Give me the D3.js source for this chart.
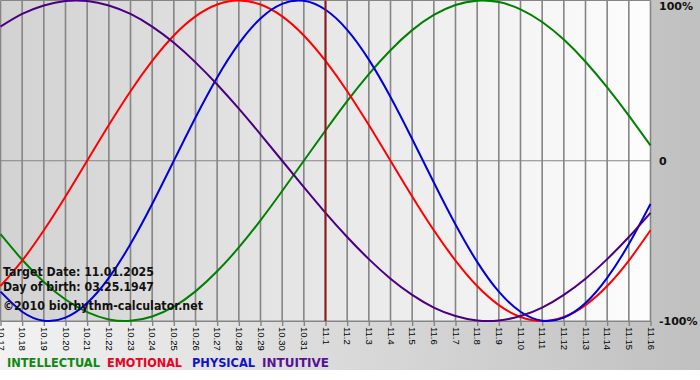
<!DOCTYPE html>
<html><head><meta charset="utf-8">
<script src="https://cdn.jsdelivr.net/npm/d3@7"></script>
<style>html,body{margin:0;padding:0;background:#fff;}svg{display:block;}</style>
</head><body>
<svg id="c" width="700" height="380"></svg>
<script>
const dates = ["10.17","10.18","10.19","10.20","10.21","10.22","10.23","10.24","10.25","10.26","10.27","10.28","10.29","10.30","10.31","11.1","11.2","11.3","11.4","11.5","11.6","11.7","11.8","11.9","11.10","11.11","11.12","11.13","11.14","11.15","11.16"];
const intellectual = [-0.458,-0.618,-0.756,-0.866,-0.945,-0.990,-0.999,-0.972,-0.910,-0.815,-0.690,-0.541,-0.372,-0.189,0,0.189,0.372,0.541,0.690,0.815,0.910,0.972,0.999,0.990,0.945,0.866,0.756,0.618,0.458,0.282,0.095];
const emotional = [-0.782,-0.623,-0.434,-0.223,0,0.223,0.434,0.623,0.782,0.901,0.975,1,0.975,0.901,0.782,0.623,0.434,0.223,0,-0.223,-0.434,-0.623,-0.782,-0.901,-0.975,-1,-0.975,-0.901,-0.782,-0.623,-0.434];
const physical = [-0.817,-0.942,-0.998,-0.979,-0.888,-0.731,-0.520,-0.270,0,0.270,0.520,0.731,0.888,0.979,0.998,0.942,0.817,0.631,0.398,0.136,-0.136,-0.398,-0.631,-0.817,-0.942,-0.998,-0.979,-0.888,-0.731,-0.520,-0.270];
const intuitive = [0.837,0.916,0.969,0.997,0.997,0.969,0.916,0.837,0.736,0.614,0.476,0.325,0.165,0,-0.165,-0.325,-0.476,-0.614,-0.736,-0.837,-0.916,-0.969,-0.997,-0.997,-0.969,-0.916,-0.837,-0.736,-0.614,-0.476,-0.325];
const seriesNames = ["INTELLECTUAL","EMOTIONAL","PHYSICAL","INTUITIVE"];
const seriesColors = ["#008000","#ff0000","#0000dd","#4b0082"];
const legendColors = ["#118811","#ee0022","#1111cc","#551199"];
const yTickLabels = ["100%","0","-100%"];
const yTickValues = [1,0,-1];
const targetIndex = 15;
const infoLines = ["Target Date: 11.01.2025","Day of birth: 03.25.1947","\u00a92010 biorhythm-calculator.net"];

const svg = d3.select("#c");
const defs = svg.append("defs");
const og = defs.append("linearGradient").attr("id","outer").attr("x1","0").attr("x2","1").attr("y1","0").attr("y2","0");
og.append("stop").attr("offset","0").attr("stop-color","#f2f2f2");
og.append("stop").attr("offset","1").attr("stop-color","#c0c0c0");
const pg = defs.append("linearGradient").attr("id","plot").attr("x1","0").attr("x2","1").attr("y1","0").attr("y2","0");
pg.append("stop").attr("offset","0").attr("stop-color","#d2d2d2");
pg.append("stop").attr("offset","1").attr("stop-color","#fdfdfd");

const W = 700, H = 370;
const x = d3.scaleLinear().domain([0, dates.length-1]).range([0.5, 650.5]);
const y = d3.scaleLinear().domain([-1, 1]).range([321, 0.5]);

svg.append("rect").attr("x",0).attr("y",0).attr("width",W).attr("height",H).attr("fill","url(#outer)");
svg.append("rect").attr("x",x(0)-0.5).attr("y",y(1)-0.5).attr("width",x(dates.length-1)-x(0)+0.5).attr("height",y(-1)-y(1)+0.5).attr("fill","url(#plot)");

// vertical grid
svg.append("g").selectAll("line").data(d3.range(dates.length)).join("line")
  .attr("x1",d=>x(d)).attr("x2",d=>x(d)).attr("y1",y(1)).attr("y2",y(-1))
  .attr("stroke","#858585").attr("stroke-width",1.6);
// horizontal grid lines
svg.append("g").selectAll("line").data(yTickValues).join("line")
  .attr("x1",x(0)).attr("x2",x(dates.length-1)).attr("y1",d=>y(d)).attr("y2",d=>y(d))
  .attr("stroke","#858585").attr("stroke-width",1.2);

// x axis
const xAxis = d3.axisBottom(x).tickValues(d3.range(dates.length)).tickFormat(i=>dates[i]).tickSize(5).tickSizeOuter(0);
const gx = svg.append("g").attr("transform",`translate(0,${y(-1)})`).call(xAxis);
gx.select(".domain").attr("stroke","#858585").attr("stroke-width",1.2);
gx.selectAll(".tick line").attr("stroke","#858585").attr("stroke-width",1.4);
gx.selectAll(".tick text")
  .attr("transform","rotate(90)")
  .attr("x",6).attr("y",0).attr("dy","0.35em")
  .attr("text-anchor","start")
  .attr("fill","#000")
  .style("font-family","'Liberation Sans', Arial, sans-serif")
  .style("font-size","9.5px");

// right axis labels
svg.append("g").selectAll("text").data(yTickValues).join("text")
  .attr("x",659).attr("y",d=>y(d)).attr("dy",(d,i)=> i===0?"0.85em":(i===2?"0.35em":"0.4em"))
  .text((d,i)=>yTickLabels[i])
  .attr("fill","#111")
  .style("font-family","'DejaVu Sans', Verdana, sans-serif")
  .style("font-weight","bold").style("font-size","11px");

// series lines
const series = [intellectual, emotional, physical, intuitive];
const line = d3.line().x((d,i)=>x(i)).y(d=>y(d)).curve(d3.curveNatural);
svg.append("g").selectAll("path").data(series).join("path")
  .attr("d",d=>line(d)).attr("fill","none")
  .attr("stroke",(d,i)=>seriesColors[i]).attr("stroke-width",2);

// target line
svg.append("line").attr("x1",x(targetIndex)).attr("x2",x(targetIndex)).attr("y1",y(1)).attr("y2",y(-1))
  .attr("stroke","#8b1a1a").attr("stroke-width",2);

// info text
const infoY = [276, 290.5, 310];
const infoW = [151, 151, 200];
svg.append("g").selectAll("text").data(infoLines).join("text")
  .attr("x",3).attr("y",(d,i)=>infoY[i]).text(d=>d)
  .attr("textLength",(d,i)=>infoW[i]).attr("lengthAdjust","spacingAndGlyphs")
  .attr("fill","#111")
  .style("font-family","'DejaVu Sans', Verdana, sans-serif")
  .style("font-weight","bold").style("font-size","11.5px");

// legend
const legX = [7, 107, 192, 262];
const legW = [93, 75, 63, 67];
svg.append("g").selectAll("text").data(seriesNames).join("text")
  .attr("x",(d,i)=>legX[i]).attr("y",367).text(d=>d)
  .attr("textLength",(d,i)=>legW[i]).attr("lengthAdjust","spacingAndGlyphs")
  .attr("fill",(d,i)=>legendColors[i])
  .style("font-family","'DejaVu Sans', Verdana, sans-serif")
  .style("font-weight","bold").style("font-size","12px");
</script>
</body></html>
